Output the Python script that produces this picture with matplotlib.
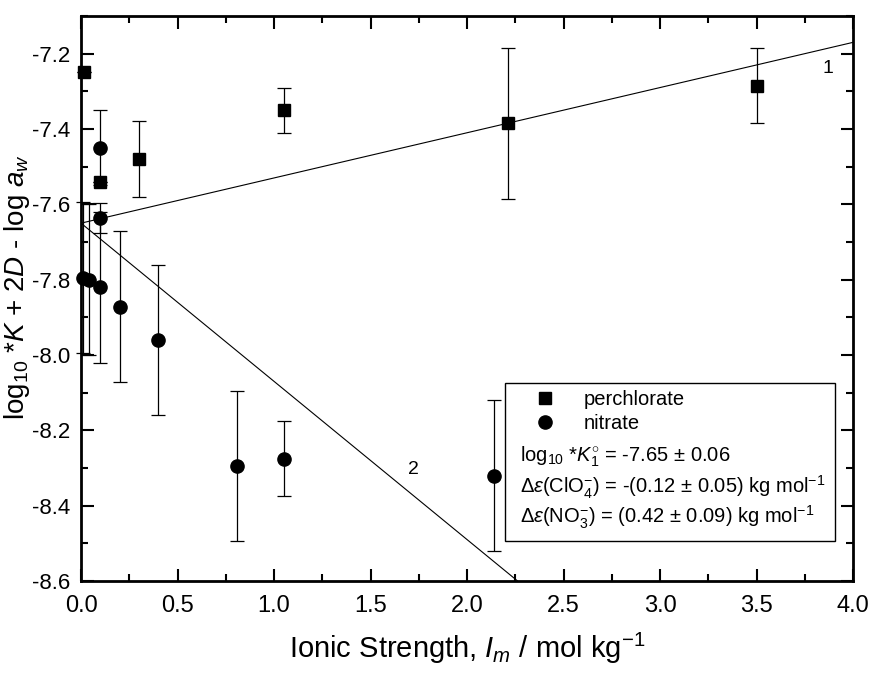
import matplotlib.pyplot as plt
import numpy as np
from matplotlib import font_manager
from matplotlib.lines import Line2D
from matplotlib.patches import Rectangle
from matplotlib.ticker import MultipleLocator

plt.rcParams['font.family'] = ['Liberation Sans', 'DejaVu Sans']
plt.rcParams['mathtext.fontset'] = 'custom'
plt.rcParams['mathtext.rm'] = 'Liberation Sans'
plt.rcParams['mathtext.it'] = 'Liberation Sans:italic'
plt.rcParams['mathtext.sf'] = 'Liberation Sans'
plt.rcParams['axes.unicode_minus'] = False

# fuente estrecha para el eje x si existe
nombres = {f.name for f in font_manager.fontManager.ttflist}
fuente_x = 'Liberation Sans Narrow' if 'Liberation Sans Narrow' in nombres else 'Liberation Sans'

# Datos: perclorato (cuadrados)
perc_I = [0.015, 0.1, 0.3, 1.05, 2.21, 3.5]
perc_y = [-7.25, -7.54, -7.48, -7.35, -7.385, -7.285]
perc_err = [0.0, 0.0, 0.10, 0.06, 0.20, 0.10]

# Datos: nitrato (circulos)
nit_I = [0.01, 0.04, 0.1, 0.1, 0.1, 0.2, 0.4, 0.81, 1.05, 2.14]
nit_y = [-7.795, -7.8, -7.45, -7.636, -7.82, -7.872, -7.96, -8.295, -8.275, -8.32]
nit_err = [0.2, 0.2, 0.1, 0.04, 0.2, 0.2, 0.2, 0.2, 0.1, 0.2]

# Ajuste SIT
logK0 = -7.65
deps_clo4 = -0.12
deps_no3 = 0.42

fig = plt.figure(figsize=(8.73, 6.75), dpi=100)
ax = fig.add_axes([0.0928, 0.1393, 0.8843, 0.837])

ax.errorbar(perc_I, perc_y, yerr=perc_err, fmt='s', color='black', ms=8,
            capsize=4.7, elinewidth=0.9, capthick=0.9, clip_on=False, zorder=4)
ax.errorbar(nit_I, nit_y, yerr=nit_err, fmt='o', color='black', ms=9.5,
            capsize=4.7, elinewidth=0.9, capthick=0.9, clip_on=False, zorder=4)

I_line = np.array([0.0, 4.0])
ax.plot(I_line, logK0 - deps_clo4 * I_line, color='black', lw=0.8)
ax.plot(I_line, logK0 - deps_no3 * I_line, color='black', lw=0.8)
ax.text(3.87, -7.24, '1', fontsize=14, ha='center', va='center')
ax.text(1.72, -8.305, '2', fontsize=14, ha='center', va='center')

ax.set_xlim(0, 4.0)
ax.set_ylim(-8.6, -7.1)
ax.xaxis.set_major_locator(MultipleLocator(0.5))
ax.xaxis.set_minor_locator(MultipleLocator(0.25))
ax.yaxis.set_major_locator(MultipleLocator(0.2))
ax.yaxis.set_minor_locator(MultipleLocator(0.1))
ax.tick_params(which='both', direction='in', top=True, right=True, width=1.5)
ax.tick_params(which='major', length=9)
ax.tick_params(which='minor', length=5)
ax.tick_params(axis='x', pad=10, labelsize=17)
ax.tick_params(axis='y', pad=8, labelsize=16)
for lab in ax.get_xticklabels():
    lab.set_family(fuente_x)
for s in ax.spines.values():
    s.set_linewidth(2)

ax.set_xlabel('Ionic Strength, $I_m$ / mol kg$^{-1}$', fontsize=21, labelpad=10,
              family=fuente_x)
fig.text(0.019, 0.575, 'log$_{10}$ *$K$ + 2$D$ - log $a_w$', rotation=90,
         fontsize=20, ha='center', va='center')

# Caja de leyenda
ax.add_patch(Rectangle((0.549, 0.071), 0.428, 0.279, transform=ax.transAxes,
                       fill=False, lw=1, ec='black', zorder=3))
handles = [Line2D([], [], ls='none', marker='s', ms=8, color='black'),
           Line2D([], [], ls='none', marker='o', ms=9.5, color='black')]
ax.legend(handles, ['perchlorate', 'nitrate'], loc='upper left',
          bbox_to_anchor=(0.549, 0.350), frameon=False, fontsize=14.5,
          borderaxespad=0, borderpad=0.35, handlelength=3.3, handletextpad=0.25,
          labelspacing=0.25)
ax.text(0.568, 0.219, r'log$_{10}$ *$K_1^{\circ}$ = -7.65 $\pm$ 0.06',
        transform=ax.transAxes, fontsize=14.5, va='center')
ax.text(0.568, 0.165, r'$\Delta\varepsilon$(ClO$_4^{-}$) = -(0.12 $\pm$ 0.05) kg mol$^{-1}$',
        transform=ax.transAxes, fontsize=14.5, va='center')
ax.text(0.568, 0.113, r'$\Delta\varepsilon$(NO$_3^{-}$) = (0.42 $\pm$ 0.09) kg mol$^{-1}$',
        transform=ax.transAxes, fontsize=14.5, va='center')

plt.savefig('out.png')
